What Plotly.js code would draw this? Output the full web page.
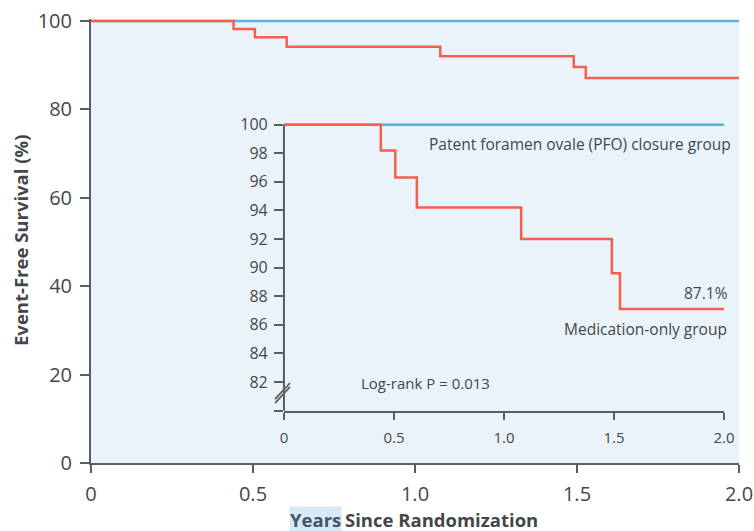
<!DOCTYPE html>
<html>
<head>
<meta charset="utf-8">
<script src="https://cdn.plot.ly/plotly-3.0.1.min.js"></script>
<style>html,body{margin:0;padding:0;background:#fff;}#chart{width:754px;height:531px;}</style>
</head>
<body>
<div id="chart"></div>
<script>
// Data
const years = [0, 0.44, 0.506, 0.604, 1.078, 1.49, 1.527, 2.0];
const medicationOnly = [100, 98.2, 96.3, 94.2, 92.0, 89.6, 87.1, 87.1];
const pfoYears = [0, 2.0];
const pfoClosure = [100, 100];
const xTickVals = [0, 0.5, 1.0, 1.5, 2.0];
const xTickText = ["0", "0.5", "1.0", "1.5", "2.0"];
const yTickVals = [0, 20, 40, 60, 80, 100];
const insetYTickVals = [80, 82, 84, 86, 88, 90, 92, 94, 96, 98, 100];
const insetYTickText = ["", "82", "84", "86", "88", "90", "92", "94", "96", "98", "100"];

const BLUE = '#5aaee0';
const RED = '#f5604a';
const TXT = '#43474a';
const AX = '#5b5e61';
const BG = '#eaf3fa';
const FONT = '"Open Sans", "Noto Sans", sans-serif';

const traces = [
  {x: pfoYears, y: pfoClosure, mode: 'lines', line: {color: BLUE, width: 2.5}, xaxis: 'x', yaxis: 'y', hoverinfo: 'skip'},
  {x: years, y: medicationOnly, mode: 'lines', line: {color: RED, width: 2.5, shape: 'hv'}, xaxis: 'x', yaxis: 'y', hoverinfo: 'skip'},
  {x: pfoYears, y: pfoClosure, mode: 'lines', line: {color: BLUE, width: 2.5}, xaxis: 'x2', yaxis: 'y2', hoverinfo: 'skip'},
  {x: years, y: medicationOnly, mode: 'lines', line: {color: RED, width: 2.5, shape: 'hv'}, xaxis: 'x2', yaxis: 'y2', hoverinfo: 'skip'}
];

const layout = {
  width: 754, height: 531,
  margin: {l: 91, r: 15, t: 19, b: 68},
  paper_bgcolor: '#ffffff',
  plot_bgcolor: 'rgba(0,0,0,0)',
  showlegend: false,
  font: {family: FONT, color: TXT},
  xaxis: {
    range: [0, 2], domain: [0, 1], showgrid: false, zeroline: false,
    showline: true, linecolor: AX, linewidth: 2,
    ticks: 'outside', ticklen: 8, tickwidth: 2, tickcolor: AX,
    tickvals: xTickVals, ticktext: xTickText,
    tickfont: {size: 20, color: TXT, family: FONT}, ticklabelstandoff: 4
  },
  yaxis: {
    range: [0, 100.45], domain: [0, 1], showgrid: false, zeroline: false,
    showline: true, linecolor: AX, linewidth: 2,
    ticks: 'outside', ticklen: 9, tickwidth: 2, tickcolor: AX,
    tickvals: yTickVals,
    tickfont: {size: 20, color: TXT, family: FONT}, ticklabelstandoff: 4
  },
  xaxis2: {
    anchor: 'y2', range: [0, 2], domain: [0.2978, 0.9769], showgrid: false, zeroline: false,
    showline: true, linecolor: AX, linewidth: 2,
    ticks: 'outside', ticklen: 7, tickwidth: 2, tickcolor: AX,
    tickvals: xTickVals, ticktext: xTickText,
    tickfont: {size: 15, color: TXT, family: FONT}, ticklabelstandoff: 5
  },
  yaxis2: {
    anchor: 'x2', range: [80, 100.26], domain: [0.1182, 0.7703], showgrid: false, zeroline: false,
    showline: false,
    ticks: 'outside', ticklen: 9, tickwidth: 2, tickcolor: AX,
    tickvals: insetYTickVals, ticktext: insetYTickText,
    tickfont: {size: 16, color: TXT, family: FONT}, ticklabelstandoff: 3
  },
  shapes: [
    {type: 'rect', xref: 'x', yref: 'y', x0: 0, x1: 2, y0: 0, y1: 100, fillcolor: BG, line: {width: 0}, layer: 'below'},
    {type: 'line', xref: 'paper', yref: 'paper', x0: 0.2978, x1: 0.2978, y0: 0.1182, y1: 0.7619, line: {color: AX, width: 2}},
    {type: 'line', xref: 'paper', yref: 'paper', x0: 0.2840, x1: 0.3071, y0: 0.1351, y1: 0.1712, line: {color: AX, width: 1.8}},
    {type: 'line', xref: 'paper', yref: 'paper', x0: 0.2840, x1: 0.3071, y0: 0.1441, y1: 0.1802, line: {color: AX, width: 1.8}}
  ],
  annotations: [
    {xref: 'paper', yref: 'paper', x: 0, y: 0.5, xshift: -71, text: '<b>Event-Free Survival (%)</b>', textangle: -90,
     showarrow: false, xanchor: 'center', yanchor: 'middle', font: {size: 18.5, color: TXT, family: FONT}},
    {xref: 'paper', yref: 'paper', x: 0.3056, y: 0, yshift: -56, text: '<b>Years</b>', showarrow: false,
     xanchor: 'left', yanchor: 'middle', bgcolor: '#d6e9f7', borderpad: 0, font: {size: 18.5, color: '#3e5769', family: FONT}},
    {xref: 'paper', yref: 'paper', x: 0.3895, y: 0, yshift: -56, text: '<b>Since Randomization</b>', showarrow: false,
     xanchor: 'left', yanchor: 'middle', font: {size: 18.5, color: TXT, family: FONT}},
    {xref: 'paper', yref: 'paper', x: 0.9907, y: 0.7185, text: 'Patent foramen ovale (PFO) closure group', showarrow: false,
     xanchor: 'right', yanchor: 'middle', font: {size: 15.5, color: TXT, family: FONT}},
    {xref: 'paper', yref: 'paper', x: 0.9856, y: 0.3822, text: '87.1%', showarrow: false,
     xanchor: 'right', yanchor: 'middle', font: {size: 15.5, color: TXT, family: FONT}},
    {xref: 'paper', yref: 'paper', x: 0.985, y: 0.3011, text: 'Medication-only group', showarrow: false,
     xanchor: 'right', yanchor: 'middle', font: {size: 15.5, color: TXT, family: FONT}},
    {xref: 'x2', yref: 'y2', x: 0.342, y: 81.9, text: 'Log-rank P = 0.013', showarrow: false,
     xanchor: 'left', yanchor: 'middle', font: {size: 15, color: TXT, family: FONT}}
  ]
};

Plotly.newPlot('chart', traces, layout, {staticPlot: true, displayModeBar: false});
</script>
</body>
</html>
